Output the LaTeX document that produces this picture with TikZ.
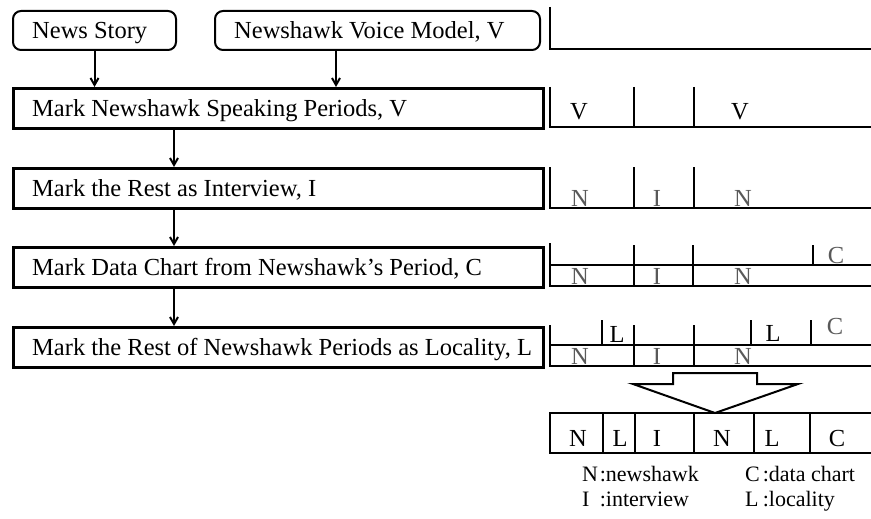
\documentclass[tikz,border=0pt]{standalone}
\usepackage{fontspec}
\setmainfont{Liberation Serif}
\usetikzlibrary{arrows.meta}

\begin{document}
\begin{tikzpicture}[x=1pt,y=-1pt,
  font=\fontsize{24.5}{29}\selectfont,
  srcbox/.style={draw, line width=2pt, rounded corners=8pt, minimum height=39pt, inner sep=0pt, anchor=north west},
  stepbox/.style={draw, line width=3pt, minimum width=530pt, minimum height=40pt, inner sep=0pt, anchor=north west},
  txt/.style={inner sep=0pt, anchor=base west},
  arr/.style={line width=2pt, -{Straight Barb[length=7pt,width=8pt]}},
  tline/.style={line width=2.5pt},
  tdiv/.style={line width=1.6pt},
  tlab/.style={inner sep=0pt, anchor=base},
  glab/.style={tlab, text=black!65},
  blockarrow/.style={line width=2pt, line join=miter},
  lgd/.style={inner sep=0pt, anchor=base west, font=\fontsize{22}{26}\selectfont},
]
\useasboundingbox (0,0) rectangle (871,519);

% --- sources ---
\node[srcbox, minimum width=163pt] (news) at (12,10) {};
\node[txt] (newsT) at ([shift={(20pt,-8pt)}]news.west) {News Story};
\node[srcbox, minimum width=325pt] (voice) at (214,10) {};
\node[txt] (voiceT) at ([shift={(20pt,-8pt)}]voice.west) {Newshawk Voice Model, V};

% --- processing steps ---
\node[stepbox] (b1) at (12,87) {};
\node[txt] (b1T) at ([shift={(20pt,-8pt)}]b1.west) {Mark Newshawk Speaking Periods, V};
\node[stepbox] (b2) at (12,167) {};
\node[txt] (b2T) at ([shift={(20pt,-8pt)}]b2.west) {Mark the Rest as Interview, I};
\node[stepbox] (b3) at (12,246) {};
\node[txt] (b3T) at ([shift={(20pt,-8pt)}]b3.west) {Mark Data Chart from Newshawk's Period, C};
\node[stepbox] (b4) at (12,326) {};
\node[txt] (b4T) at ([shift={(20pt,-8pt)}]b4.west) {Mark the Rest of Newshawk Periods as Locality, L};

% --- connectors ---
\draw[arr] (news.south) -- (news.south |- b1.north);
\coordinate (vout) at ([xshift=122pt]voice.south west);
\draw[arr] (vout) -- (vout |- b1.north);
\coordinate (c1) at ([xshift=162pt]b1.south west);
\draw[arr] (c1) -- (c1 |- b2.north);
\coordinate (c2) at ([xshift=162pt]b2.south west);
\draw[arr] (c2) -- (c2 |- b3.north);
\coordinate (c3) at ([xshift=162pt]b3.south west);
\draw[arr] (c3) -- (c3 |- b4.north);

% --- timelines ---
% empty
\draw[tline] (550,7) -- (550,49) -- (871,49);
% speaking periods
\draw[tline] (550,87) -- (550,127) -- (871,127);
\draw[tdiv] (634,87) -- (634,127);
\draw[tdiv] (694,87) -- (694,127);
\node[tlab] (v1) at (579,120) {V};
\node[tlab] (v2) at (740,120) {V};
% interview
\draw[tline] (550,167) -- (550,208) -- (871,208);
\draw[tdiv] (634,167) -- (634,208);
\draw[tdiv] (694,167) -- (694,208);
\node[glab] (n31) at (580,206) {N};
\node[glab] (i31) at (657,206) {I};
\node[glab] (n32) at (743,206) {N};
% data chart
\draw[tline] (550,243) -- (550,286) -- (871,286);
\draw[tline] (550,265) -- (871,265);
\draw[tdiv] (634,245) -- (634,286);
\draw[tdiv] (693,245) -- (693,286);
\draw[tdiv] (813,245) -- (813,265);
\node[glab] (c41) at (836,263) {C};
\node[glab] (n41) at (580,284) {N};
\node[glab] (i41) at (657,284) {I};
\node[glab] (n42) at (743,284) {N};
% locality
\draw[tline] (550,325) -- (550,366) -- (871,366);
\draw[tline] (550,345) -- (871,345);
\draw[tdiv] (602,320) -- (602,345);
\draw[tdiv] (634,325) -- (634,366);
\draw[tdiv] (694,325) -- (694,366);
\draw[tdiv] (751,320) -- (751,345);
\draw[tdiv] (811,320) -- (811,345);
\node[tlab] (l51) at (617,342) {L};
\node[tlab] (l52) at (773,341) {L};
\node[glab] (c51) at (835,334) {C};
\node[glab] (n51) at (580,364) {N};
\node[glab] (i51) at (657,364) {I};
\node[glab] (n52) at (743,364) {N};

% --- merge arrow ---
\draw[blockarrow] (673,373) -- (757,373) -- (757,384) -- (798,384) -- (715,413)
  -- (633,384) -- (673,384) -- cycle;

% --- final segmentation ---
\draw[tline] (871,413) -- (550,413) -- (550,453) -- (871,453);
\foreach \x in {603,635,694,754,810} \draw[tline] (\x,413) -- (\x,453);
\node[tlab] (fn1) at (578,446) {N};
\node[tlab] (fl1) at (620,446) {L};
\node[tlab] (fi1) at (657,446) {I};
\node[tlab] (fn2) at (722,446) {N};
\node[tlab] (fl2) at (772,446) {L};
\node[tlab] (fc1) at (837,446) {C};

% --- legend ---
\node[lgd] (lgN) at (582,481) {\makebox[0.8em][l]{N}:newshawk};
\node[lgd] (lgC) at (745,481) {\makebox[0.8em][l]{C}:data chart};
\node[lgd] (lgI) at (582,506) {\makebox[0.8em][l]{I}:interview};
\node[lgd] (lgL) at (745,506) {\makebox[0.8em][l]{L}:locality};
\end{tikzpicture}
\end{document}
